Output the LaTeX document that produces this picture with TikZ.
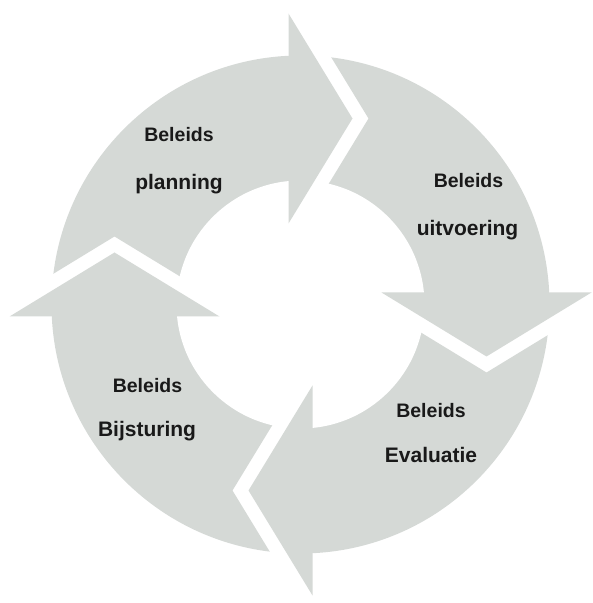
\documentclass[tikz,border=0pt]{standalone}
\usepackage{fontspec}
\setmainfont{Liberation Sans}
\definecolor{ringgray}{RGB}{213,217,214}
\definecolor{txt}{RGB}{25,25,25}
\begin{document}
\begin{tikzpicture}[x=1pt,y=1pt,
  segfill/.style={fill=ringgray},
  lbl/.style={anchor=base, text=txt, font=\bfseries\fontsize{19.5}{22}\selectfont},
  lblbig/.style={anchor=base, text=txt, font=\bfseries\fontsize{21}{24}\selectfont}]
\useasboundingbox (0,0) rectangle (593,603);
\coordinate (C) at (300.5,298.5);
% ring bodies with chevron tails
\begin{scope}
  \clip (C) circle[radius=249pt];
  \foreach \a in {0,-90,-180,-270}{
    \fill[segfill, shift={(C)}, rotate=\a]
      (-291,4) -- (-186,68) -- (-81,4) -- (-10,4) -- (-10,300) -- (-300,300) -- cycle;
  }
\end{scope}
% hole
\fill[white] (C) circle[radius=124pt];
% arrow heads
\foreach \a in {0,-90,-180,-270}{
  \fill[segfill, shift={(C)}, rotate=\a] (-12,291) -- (52,186) -- (-12,81) -- cycle;
}
% labels
\node[lbl]    (p1) at (179,461)   {Beleids};
\node[lblbig] (p2) at (179,413)   {planning};
\node[lbl]    (u1) at (468.5,415) {Beleids};
\node[lblbig] (u2) at (467.5,367) {uitvoering};
\node[lbl]    (e1) at (431,185)   {Beleids};
\node[lblbig] (e2) at (431,140)   {Evaluatie};
\node[lbl]    (b1) at (147.5,210) {Beleids};
\node[lblbig] (b2) at (147,166)   {Bijsturing};
\end{tikzpicture}
\end{document}
